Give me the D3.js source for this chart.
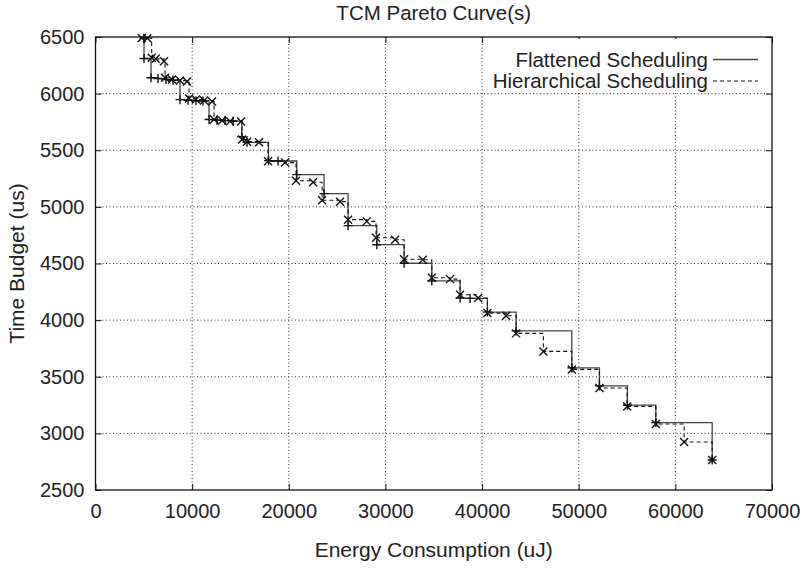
<!DOCTYPE html>
<html>
<head>
    <script src="https://cdn.jsdelivr.net/npm/d3@7"></script>
    <style>
        body { margin: 0; background: #fff; }
        text { font-family: 'Liberation Sans', Arial, sans-serif; fill: #222; }
    </style>
</head>

<body>
<div id="chart"></div>

<script>

    // Flattened Scheduling (solid line, + markers)
    var flatEnergy = [5020, 5020, 5745, 6470, 7300, 8020, 8745, 9575, 10400, 11125,
        11750, 12575, 13400, 14230, 15130, 15680, 17900, 18890, 20825, 23650,
        26135, 29105, 31930, 34800, 37725, 38760, 40550, 43520, 49285, 52145,
        55040, 57980, 63810];
    var flatTime = [6490, 6310, 6140, 6133, 6125, 6118, 5947, 5942, 5938, 5934,
        5771, 5766, 5762, 5757, 5620, 5570, 5408, 5405, 5285, 5117,
        4834, 4666, 4502, 4347, 4195, 4192, 4071, 3905, 3578, 3419,
        3249, 3095, 2765];

    // Hierarchical Scheduling (dashed line, x markers)
    var hierEnergy = [4780, 5360, 5815, 6230, 7090, 7195, 7920, 8745, 9470, 9680,
        10400, 11230, 12060, 12265, 13095, 13920, 15060, 15165, 15680, 16920,
        17855, 19615, 20750, 22510, 23445, 25305, 26135, 28070, 29030, 31000,
        31930, 33865, 34800, 36690, 37725, 39590, 40550, 42485, 43520, 46345,
        49285, 52145, 55010, 57980, 60910, 63810];
    var hierTime = [6492, 6490, 6316, 6307, 6286, 6140, 6124, 6115, 6107, 5956,
        5948, 5939, 5930, 5771, 5762, 5757, 5753, 5594, 5576, 5570,
        5402, 5391, 5231, 5218, 5059, 5046, 4887, 4872, 4728, 4710,
        4538, 4533, 4374, 4362, 4224, 4195, 4062, 4038, 3883, 3724,
        3565, 3401, 3238, 3083, 2924, 2765];

    var xTicks = [0, 10000, 20000, 30000, 40000, 50000, 60000, 70000];
    var yTicks = [2500, 3000, 3500, 4000, 4500, 5000, 5500, 6000, 6500];

    var seriesNames = ['Flattened Scheduling', 'Hierarchical Scheduling'];

    var width = 803;
    var height = 568;
    var plotLeft = 95.5, plotRight = 772, plotTop = 37, plotBottom = 490;

    var svg = d3.select('#chart').append('svg')
        .attr('width', width)
        .attr('height', height);

    var x = d3.scaleLinear().domain([0, 70000]).range([plotLeft, plotRight]);
    var y = d3.scaleLinear().domain([2500, 6500]).range([plotBottom, plotTop]);

    // dotted grid
    var grid = svg.append('g');
    grid.selectAll('line.gx')
        .data(xTicks.slice(1, -1))
        .enter().append('line')
        .attr('x1', function(d) { return x(d); })
        .attr('x2', function(d) { return x(d); })
        .attr('y1', plotTop).attr('y2', plotBottom)
        .attr('stroke', '#333').attr('stroke-width', 1)
        .attr('stroke-dasharray', '1,2.5');
    grid.selectAll('line.gy')
        .data(yTicks.slice(1, -1))
        .enter().append('line')
        .attr('y1', function(d) { return y(d); })
        .attr('y2', function(d) { return y(d); })
        .attr('x1', plotLeft).attr('x2', plotRight)
        .attr('stroke', '#333').attr('stroke-width', 1)
        .attr('stroke-dasharray', '1,2.5');

    // axes with inward ticks, mirrored on top and right
    var tickLen = 6;
    var fmt = d3.format('d');
    svg.append('g')
        .attr('transform', 'translate(0,' + plotBottom + ')')
        .call(d3.axisBottom(x).tickValues(xTicks).tickFormat(fmt).tickSizeInner(-tickLen).tickSizeOuter(0).tickPadding(14))
        .call(function(g) { g.select('.domain').remove(); });
    svg.append('g')
        .attr('transform', 'translate(0,' + plotTop + ')')
        .call(d3.axisTop(x).tickValues(xTicks).tickSizeInner(-tickLen).tickSizeOuter(0).tickFormat(''))
        .call(function(g) { g.select('.domain').remove(); });
    svg.append('g')
        .attr('transform', 'translate(' + plotLeft + ',0)')
        .call(d3.axisLeft(y).tickValues(yTicks).tickFormat(fmt).tickSizeInner(-tickLen).tickSizeOuter(0).tickPadding(11))
        .call(function(g) { g.select('.domain').remove(); });
    svg.append('g')
        .attr('transform', 'translate(' + plotRight + ',0)')
        .call(d3.axisRight(y).tickValues(yTicks).tickSizeInner(-tickLen).tickSizeOuter(0).tickFormat(''))
        .call(function(g) { g.select('.domain').remove(); });

    svg.selectAll('.tick line').attr('stroke', '#111');
    svg.selectAll('.tick text')
        .attr('font-size', 20)
        .attr('font-family', "'Liberation Sans', Arial, sans-serif")
        .attr('fill', '#222');

    // legend box (opaque)
    svg.append('rect')
        .attr('x', 484).attr('y', plotTop + 2)
        .attr('width', plotRight - 486).attr('height', 51)
        .attr('fill', '#fff');

    // series
    var flat = flatEnergy.map(function(e, i) { return [e, flatTime[i]]; });
    var hier = hierEnergy.map(function(e, i) { return [e, hierTime[i]]; });

    var step = d3.line()
        .x(function(d) { return x(d[0]); })
        .y(function(d) { return y(d[1]); })
        .curve(d3.curveStepAfter);

    svg.append('path')
        .attr('d', step(flat))
        .attr('fill', 'none')
        .attr('stroke', '#444')
        .attr('stroke-width', 1.3);

    svg.append('path')
        .attr('d', step(hier))
        .attr('fill', 'none')
        .attr('stroke', '#111')
        .attr('stroke-width', 1.1)
        .attr('stroke-dasharray', '4,3');

    var m = 4.5;
    svg.append('g').selectAll('path')
        .data(flat)
        .enter().append('path')
        .attr('d', function(d) {
            var px = x(d[0]), py = y(d[1]);
            return 'M' + (px - m) + ',' + py + 'H' + (px + m) + 'M' + px + ',' + (py - m) + 'V' + (py + m);
        })
        .attr('stroke', '#111').attr('stroke-width', 1.4).attr('fill', 'none');

    var k = 4;
    svg.append('g').selectAll('path')
        .data(hier)
        .enter().append('path')
        .attr('d', function(d) {
            var px = x(d[0]), py = y(d[1]);
            return 'M' + (px - k) + ',' + (py - k) + 'L' + (px + k) + ',' + (py + k) +
                'M' + (px - k) + ',' + (py + k) + 'L' + (px + k) + ',' + (py - k);
        })
        .attr('stroke', '#111').attr('stroke-width', 1.4).attr('fill', 'none');

    // plot border
    svg.append('rect')
        .attr('x', plotLeft).attr('y', plotTop)
        .attr('width', plotRight - plotLeft).attr('height', plotBottom - plotTop)
        .attr('fill', 'none').attr('stroke', '#111').attr('stroke-width', 1.3);

    // legend entries
    var legend = svg.append('g').attr('class', 'legend');
    var entries = legend.selectAll('g')
        .data(seriesNames)
        .enter().append('g')
        .attr('transform', function(d, i) { return 'translate(0,' + (59.5 + i * 21.5) + ')'; });

    entries.append('text')
        .attr('x', 708)
        .attr('dy', '0.35em')
        .attr('text-anchor', 'end')
        .attr('font-size', 20.5)
        .text(function(d) { return d; });

    entries.append('line')
        .attr('x1', 713).attr('x2', 758)
        .attr('stroke', function(d, i) { return i === 0 ? '#444' : '#111'; })
        .attr('stroke-width', function(d, i) { return i === 0 ? 1.3 : 1.1; })
        .attr('stroke-dasharray', function(d, i) { return i === 0 ? null : '4,3'; });

    // titles
    svg.append('text')
        .attr('x', (plotLeft + plotRight) / 2).attr('y', 13)
        .attr('dy', '0.35em')
        .attr('text-anchor', 'middle')
        .attr('font-size', 20.5)
        .text('TCM Pareto Curve(s)');

    svg.append('text')
        .attr('x', (plotLeft + plotRight) / 2).attr('y', 550)
        .attr('dy', '0.35em')
        .attr('text-anchor', 'middle')
        .attr('font-size', 21)
        .text('Energy Consumption (uJ)');

    svg.append('text')
        .attr('transform', 'translate(17,' + ((plotTop + plotBottom) / 2) + ') rotate(-90)')
        .attr('dy', '0.35em')
        .attr('text-anchor', 'middle')
        .attr('font-size', 21)
        .text('Time Budget (us)');

</script>
</body>
</html>
